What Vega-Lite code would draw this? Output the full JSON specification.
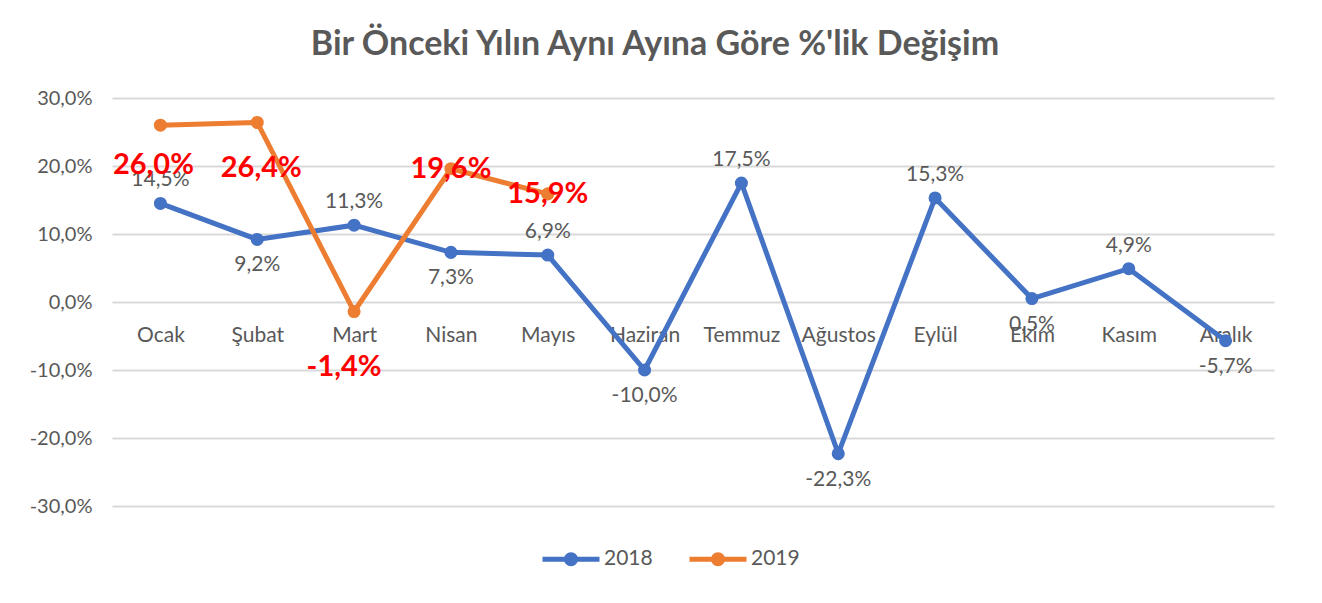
{
  "$schema": "https://vega.github.io/schema/vega-lite/v6.json",
  "width": 1162,
  "height": 408,
  "autosize": {"type": "none"},
  "padding": {"left": 112, "top": 98, "right": 48, "bottom": 97},
  "background": "white",
  "config": {
    "locale": {"number": {"decimal": ",", "thousands": ".", "grouping": [3], "currency": ["", " TL"], "minus": "-"}},
    "view": {"stroke": null},
    "font": "Lato"
  },
  "title": {
    "text": "Bir Önceki Yılın Aynı Ayına Göre %'lik Değişim",
    "fontSize": 34,
    "fontWeight": "bold",
    "color": "#595959",
    "font": "Lato",
    "anchor": "middle",
    "dx": -38,
    "offset": 26
  },
  "data": {
    "values": [
      {"ay": "Ocak", "yil": "2018", "deger": 0.145},
      {"ay": "Şubat", "yil": "2018", "deger": 0.092},
      {"ay": "Mart", "yil": "2018", "deger": 0.113},
      {"ay": "Nisan", "yil": "2018", "deger": 0.073},
      {"ay": "Mayıs", "yil": "2018", "deger": 0.069},
      {"ay": "Haziran", "yil": "2018", "deger": -0.100},
      {"ay": "Temmuz", "yil": "2018", "deger": 0.175},
      {"ay": "Ağustos", "yil": "2018", "deger": -0.223},
      {"ay": "Eylül", "yil": "2018", "deger": 0.153},
      {"ay": "Ekim", "yil": "2018", "deger": 0.005},
      {"ay": "Kasım", "yil": "2018", "deger": 0.049},
      {"ay": "Aralık", "yil": "2018", "deger": -0.057},
      {"ay": "Ocak", "yil": "2019", "deger": 0.260},
      {"ay": "Şubat", "yil": "2019", "deger": 0.264},
      {"ay": "Mart", "yil": "2019", "deger": -0.014},
      {"ay": "Nisan", "yil": "2019", "deger": 0.196},
      {"ay": "Mayıs", "yil": "2019", "deger": 0.159}
    ]
  },
  "encoding": {
    "x": {
      "field": "ay",
      "type": "nominal",
      "sort": ["Ocak", "Şubat", "Mart", "Nisan", "Mayıs", "Haziran", "Temmuz", "Ağustos", "Eylül", "Ekim", "Kasım", "Aralık"],
      "scale": {"type": "point", "padding": 0.5},
      "axis": {
        "orient": "bottom",
        "offset": -204,
        "domain": false,
        "ticks": false,
        "grid": false,
        "title": null,
        "labelAngle": 0,
        "labelPadding": 22,
        "labelFontSize": 21,
        "labelColor": "#595959",
        "labelFont": "Lato"
      }
    },
    "y": {
      "field": "deger",
      "type": "quantitative",
      "scale": {"domain": [-0.3, 0.3], "nice": false},
      "axis": {
        "values": [-0.3, -0.2, -0.1, 0, 0.1, 0.2, 0.3],
        "format": ".1%",
        "domain": false,
        "ticks": false,
        "title": null,
        "gridColor": "#d9d9d9",
        "gridWidth": 2,
        "labelPadding": 20,
        "labelFontSize": 20,
        "labelColor": "#595959",
        "labelFont": "Lato"
      }
    }
  },
  "layer": [
    {
      "mark": {"type": "line", "strokeWidth": 5},
      "encoding": {
        "color": {
          "field": "yil",
          "type": "nominal",
          "scale": {"domain": ["2018", "2019"], "range": ["#4472C4", "#ED7D31"]},
          "legend": {
            "orient": "none",
            "legendX": 428,
            "legendY": 430,
            "direction": "horizontal",
            "title": null,
            "symbolType": "M-1,0H1M0.16,0A0.16,0.16,0,1,1,-0.16,0A0.16,0.16,0,1,1,0.16,0",
            "symbolSize": 3249,
            "symbolStrokeWidth": 5,
            "labelFontSize": 21,
            "labelColor": "#595959",
            "labelFont": "Lato",
            "labelOffset": 2,
            "columnPadding": 26,
            "encode": {
              "symbols": {
                "update": {
                  "fill": {"scale": "color", "field": "value"},
                  "stroke": {"scale": "color", "field": "value"},
                  "strokeWidth": {"value": 5}
                }
              }
            }
          }
        }
      }
    },
    {
      "mark": {"type": "point", "filled": true, "size": 170, "opacity": 1},
      "encoding": {
        "color": {"field": "yil", "type": "nominal", "legend": null}
      }
    },
    {
      "transform": [
        {"filter": "datum.yil == '2018'"},
        {"filter": {"field": "ay", "oneOf": ["Ocak", "Mart", "Mayıs", "Temmuz", "Eylül", "Kasım"]}}
      ],
      "mark": {"type": "text", "dy": -23, "fontSize": 21, "color": "#595959", "font": "Lato"},
      "encoding": {"text": {"field": "deger", "type": "quantitative", "format": ".1%"}}
    },
    {
      "transform": [
        {"filter": "datum.yil == '2018'"},
        {"filter": {"field": "ay", "oneOf": ["Şubat", "Nisan", "Haziran", "Ağustos", "Ekim", "Aralık"]}}
      ],
      "mark": {"type": "text", "dy": 26, "fontSize": 21, "color": "#595959", "font": "Lato"},
      "encoding": {"text": {"field": "deger", "type": "quantitative", "format": ".1%"}}
    },
    {
      "transform": [
        {"filter": "datum.yil == '2019'"},
        {"filter": {"field": "ay", "oneOf": ["Ocak"]}}
      ],
      "mark": {"type": "text", "dy": 40, "dx": -7, "fontSize": 29, "fontWeight": "bold", "color": "#FF0000", "font": "Lato"},
      "encoding": {"text": {"field": "deger", "type": "quantitative", "format": ".1%"}}
    },
    {
      "transform": [
        {"filter": "datum.yil == '2019'"},
        {"filter": {"field": "ay", "oneOf": ["Şubat"]}}
      ],
      "mark": {"type": "text", "dy": 46, "dx": 4, "fontSize": 29, "fontWeight": "bold", "color": "#FF0000", "font": "Lato"},
      "encoding": {"text": {"field": "deger", "type": "quantitative", "format": ".1%"}}
    },
    {
      "transform": [
        {"filter": "datum.yil == '2019'"},
        {"filter": {"field": "ay", "oneOf": ["Mart"]}}
      ],
      "mark": {"type": "text", "dy": 55, "dx": -10, "fontSize": 29, "fontWeight": "bold", "color": "#FF0000", "font": "Lato"},
      "encoding": {"text": {"field": "deger", "type": "quantitative", "format": ".1%"}}
    },
    {
      "transform": [
        {"filter": "datum.yil == '2019'"},
        {"filter": {"field": "ay", "oneOf": ["Nisan", "Mayıs"]}}
      ],
      "mark": {"type": "text", "dy": 0, "fontSize": 29, "fontWeight": "bold", "color": "#FF0000", "font": "Lato"},
      "encoding": {"text": {"field": "deger", "type": "quantitative", "format": ".1%"}}
    }
  ]
}
